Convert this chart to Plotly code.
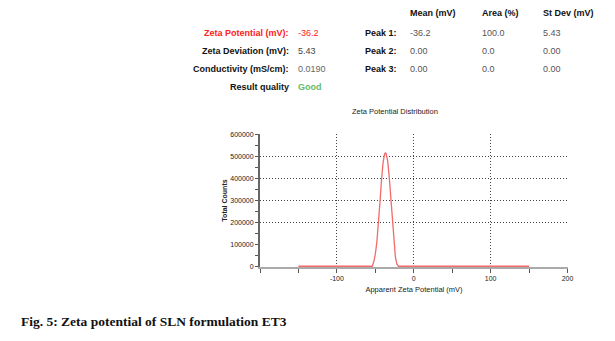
import plotly.graph_objects as go

# Zeta potential distribution (mV vs total counts)
zeta_mv = [-150, -54, -52, -50, -48, -46, -44, -42, -40, -38, -37, -36, -34,
           -32, -30, -28, -26, -24, -22, -20, 150]
total_counts = [0, 0, 20000, 55000, 110000, 190000, 290000, 390000, 470000,
                510000, 515000, 512000, 480000, 410000, 310000, 200000,
                110000, 45000, 10000, 0, 0]

x_ticks = [-100, 0, 100, 200]
y_ticks = [0, 100000, 200000, 300000, 400000, 500000, 600000]
y_grid = [200000, 300000, 400000, 500000, 600000]

# Summary table
summary_labels = ["Zeta Potential (mV):", "Zeta Deviation (mV):",
                  "Conductivity (mS/cm):", "Result quality"]
summary_values = ["-36.2", "5.43", "0.0190", "Good"]
peak_headers = ["Mean (mV)", "Area (%)", "St Dev (mV)"]
peak_names = ["Peak 1:", "Peak 2:", "Peak 3:"]
peak_mean = ["-36.2", "0.00", "0.00"]
peak_area = ["100.0", "0.0", "0.0"]
peak_sd = ["5.43", "0.00", "0.00"]

W, H = 615, 341
FONT = "Liberation Sans"
GRID_DASH = "1px,2px"
# ranges padded a hair past the ends so edge grid lines and the zero
# baseline of the curve are not clipped
X_RANGE = [-200, 200.6]
Y_RANGE = [-3500, 601500]


def px(x):
    return x / W


def py(y):
    return 1 - y / H


fig = go.Figure()
# empty trace so the main axes (lines, ticks, labels) are created
fig.add_trace(go.Scatter(x=[None], y=[None], showlegend=False))
# the distribution is drawn on the overlay axis so it sits above the axis lines
fig.add_trace(go.Scatter(
    x=zeta_mv, y=total_counts, mode="lines", yaxis="y2",
    line=dict(color="#f26a6a", width=1.3), showlegend=False,
    cliponaxis=False,
))

axis_font = dict(family=FONT, size=7, color="#222")
fig.update_layout(
    width=W, height=H,
    margin=dict(l=0, r=0, t=0, b=0, autoexpand=False),
    paper_bgcolor="white", plot_bgcolor="white",
    xaxis=dict(
        domain=[px(260), px(568)], range=X_RANGE, automargin=False,
        tickvals=x_ticks, ticktext=[str(v) for v in x_ticks],
        ticks="outside", ticklen=4, tickcolor="#555", tickwidth=1,
        minor=dict(dtick=50, tick0=0, ticks="outside", ticklen=4,
                   tickcolor="#555", showgrid=False),
        showline=True, linecolor="#aaa", linewidth=2,
        showgrid=True, gridcolor="#444", griddash=GRID_DASH, gridwidth=1,
        zeroline=False, tickfont=axis_font, layer="below traces",
        title=dict(text="Apparent Zeta Potential (mV)",
                   font=dict(family=FONT, size=7.5, color="#222"),
                   standoff=5),
    ),
    yaxis=dict(
        domain=[py(267), py(134)], range=Y_RANGE, automargin=False,
        tickvals=y_ticks, ticktext=[str(v) for v in y_ticks],
        ticks="outside", ticklen=3, tickcolor="#555", tickwidth=1,
        minor=dict(dtick=50000, tick0=0, ticks="outside", ticklen=3,
                   tickcolor="#555", showgrid=False),
        showline=True, linecolor="#666", linewidth=2,
        showgrid=False, zeroline=False, tickfont=axis_font,
        layer="below traces",
        title=dict(text="<b>Total Counts</b>",
                   font=dict(family=FONT, size=7, color="#222"),
                   standoff=2),
    ),
    yaxis2=dict(
        overlaying="y", range=Y_RANGE, tickvals=y_grid,
        showticklabels=False, ticks="", showline=False,
        showgrid=True, gridcolor="#444", griddash=GRID_DASH, gridwidth=1,
        zeroline=False, layer="below traces", automargin=False,
    ),
)

ann = []


def text(x, y, s, color="#222", size=9, anchor="left", bold=False,
         family=FONT):
    ann.append(dict(
        x=px(x), y=py(y), xref="paper", yref="paper",
        text=f"<b>{s}</b>" if bold else s, showarrow=False,
        xanchor=anchor, yanchor="middle",
        font=dict(family=family, size=size, color=color),
    ))


row_y = [33, 51, 69, 87]
label_colors = ["#ff2020", "#111", "#111", "#111"]
value_colors = ["#ff2020", "#444", "#666", "#66bb66"]
for i, (lab, val) in enumerate(zip(summary_labels, summary_values)):
    text(291, row_y[i], lab, color=label_colors[i], anchor="right", bold=True)
    text(296, row_y[i], val, color=value_colors[i], bold=(i == 3))

col_x = [408, 480, 541]
for cx, h in zip(col_x, peak_headers):
    text(cx, 13, h, color="#111", bold=True)
for i, name in enumerate(peak_names):
    text(399, row_y[i], name, color="#111", anchor="right", bold=True)
    text(col_x[0], row_y[i], peak_mean[i], color="#555")
    text(col_x[1], row_y[i], peak_area[i], color="#555")
    text(col_x[2], row_y[i], peak_sd[i], color="#555")

text(395, 112, "Zeta Potential Distribution", size=7.5, anchor="center")
text(19, 321, "Fig. 5: Zeta potential of SLN formulation ET3", color="#111",
     size=13.5, bold=True, family="Liberation Serif")

fig.update_layout(annotations=ann)
fig.write_html("out.html")
